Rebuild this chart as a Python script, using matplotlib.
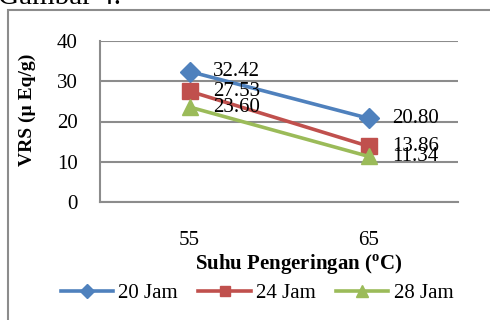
import matplotlib
matplotlib.use("Agg")
import matplotlib.pyplot as plt
from matplotlib.patches import Rectangle

categories = ["55", "65"]
series_names = ["20 Jam", "24 Jam", "28 Jam"]
vals_20 = [32.42, 20.80]
vals_24 = [27.53, 13.86]
vals_28 = [23.60, 11.34]
yticks = [0, 10, 20, 30, 40]

plt.rcParams['font.family'] = ['Liberation Serif', 'DejaVu Serif']
plt.rcParams['mathtext.fontset'] = 'custom'
plt.rcParams['mathtext.rm'] = 'Liberation Serif'
plt.rcParams['mathtext.bf'] = 'Liberation Serif:bold'

W, H = 490, 320
fig = plt.figure(figsize=(W/100, H/100), dpi=100)
ax = fig.add_axes([100/W, 1-202/H, (458-100)/W, (202-41)/H])

colors = ["#4F81BD", "#C0504D", "#9BBB59"]
markers = ["D", "s", "^"]
msizes = [10, 11, 12]
x = list(range(len(categories)))
for vals, name, c, m, ms in zip([vals_20, vals_24, vals_28], series_names, colors, markers, msizes):
    ax.plot(x, vals, color=c, lw=2.6, marker=m, ms=ms, label=name, zorder=3)
    for xi, v in zip(x, vals):
        ax.annotate(f"{v:.2f}", (xi, v), xytext=(17, 0), textcoords="offset points",
                    ha="left", va="center", fontsize=15, color="black", zorder=4)

ax.set_xlim(-0.5, 1.5)
ax.set_ylim(0, 40)
ax.set_yticks(yticks)
ax.set_yticklabels([str(t) for t in yticks], fontsize=15)
ax.set_xticks(x)
ax.set_xticklabels(categories, fontsize=15)
ax.tick_params(axis="both", length=0)
ax.tick_params(axis="y", pad=16)
ax.tick_params(axis="x", pad=21)
ax.grid(axis="y", color="#8c8c8c", lw=1.5)
ax.set_axisbelow(True)
for s in ["top", "right"]:
    ax.spines[s].set_visible(False)
ax.spines["left"].set_color("#8c8c8c")
ax.spines["left"].set_linewidth(1.5)
ax.spines["bottom"].set_color("#8c8c8c")
ax.spines["bottom"].set_linewidth(1.5)

fig.text(27/W, 1-110/H, "VRS (µ Eq/g)", rotation=90, ha="center", va="center",
         fontsize=14, fontweight="bold")
fig.text(299/W, 1-265/H, r"Suhu Pengeringan ($^{\mathbf{o}}$C)", ha="center", va="center",
         fontsize=15, fontweight="bold")

fig.legend(loc="center", bbox_to_anchor=(257/W, 1-293/H), ncol=3, frameon=False,
           fontsize=15, handlelength=2.5, handletextpad=0.25, columnspacing=1.0,
           markerscale=0.7)

fig.patches.append(Rectangle((8/W, -0.2), 1.2, 1.2 - 10/H, transform=fig.transFigure,
                             fill=False, edgecolor="#8c8c8c", lw=1.5))
fig.text(-0.005, 1-4/H, "Gambar 4.", ha="left", va="baseline", fontsize=21)

fig.savefig("out.png", dpi=100)
